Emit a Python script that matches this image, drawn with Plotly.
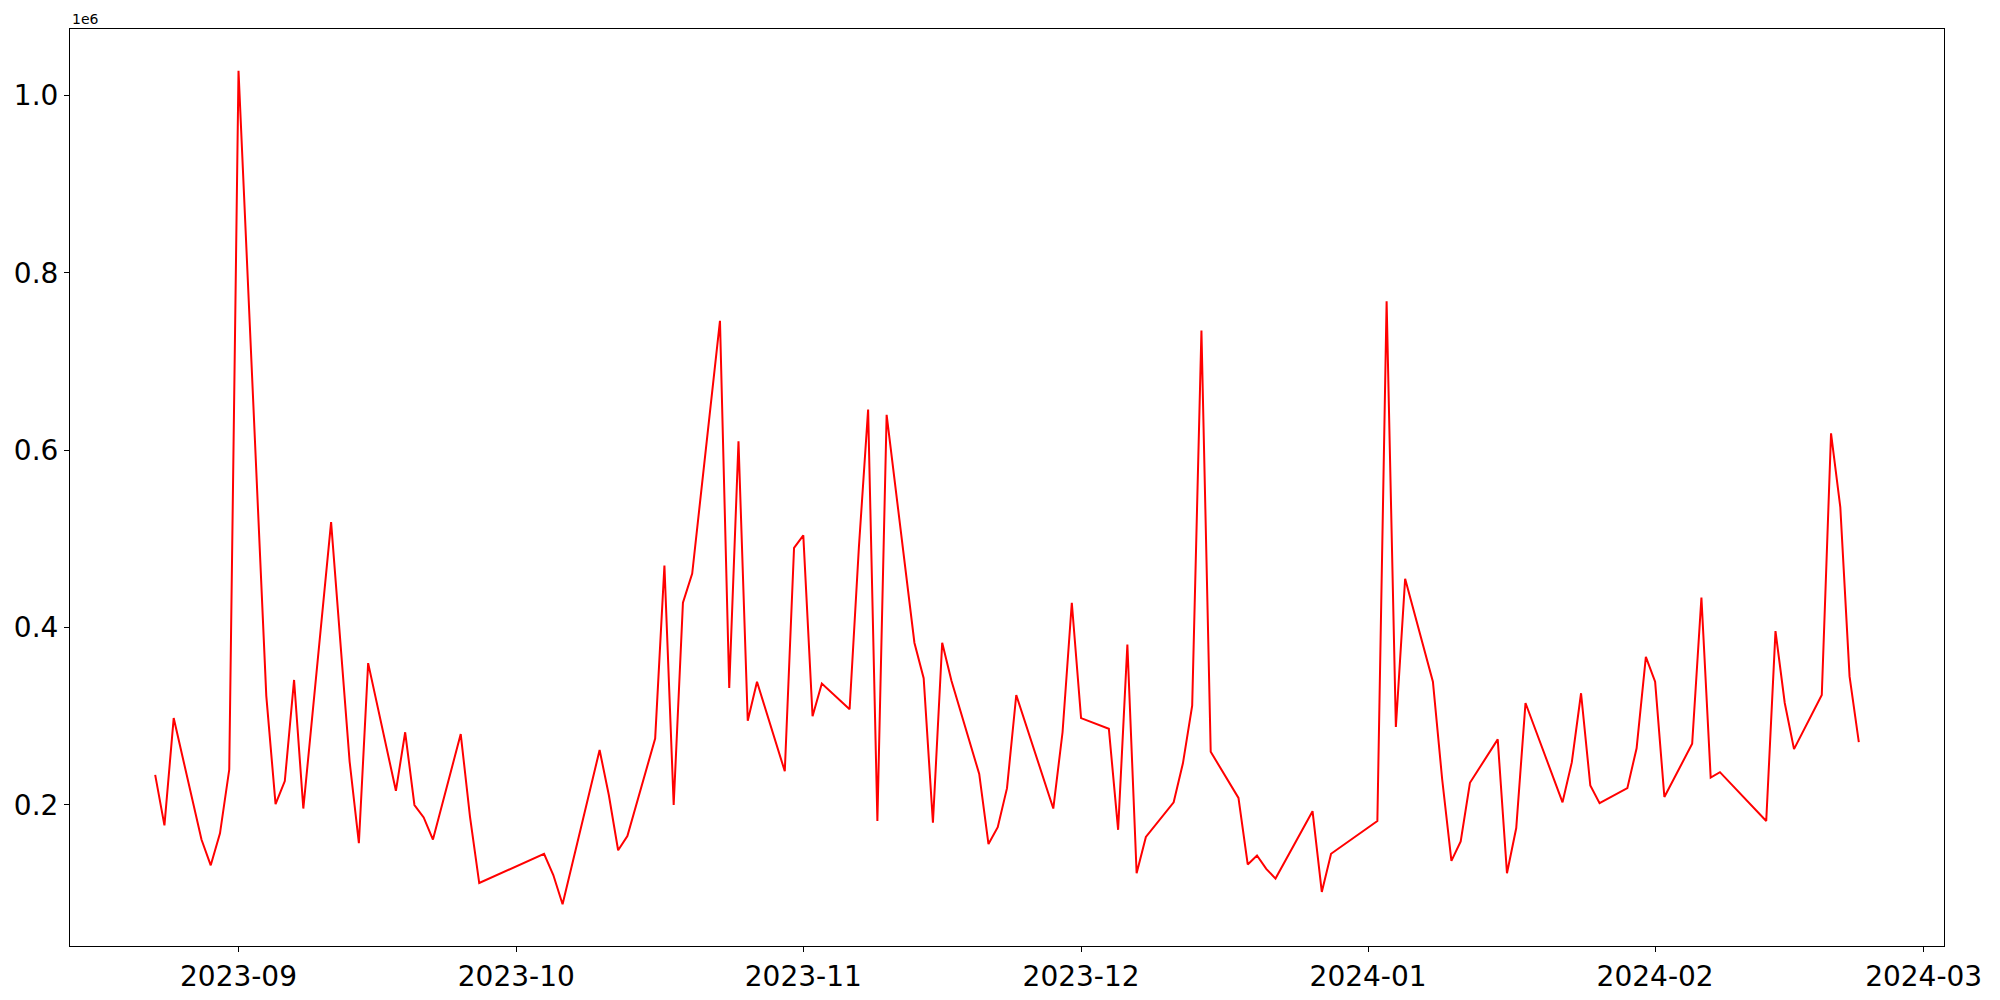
import pandas as pd
import plotly.graph_objects as go

# daily series, values in raw units (axis shows them scaled by 1e6)
dates = [
    "2023-08-23", "2023-08-24", "2023-08-25", "2023-08-28", "2023-08-29", "2023-08-30", "2023-08-31",
    "2023-09-01", "2023-09-04", "2023-09-05", "2023-09-06", "2023-09-07", "2023-09-08", "2023-09-11",
    "2023-09-13", "2023-09-14", "2023-09-15", "2023-09-18", "2023-09-19", "2023-09-20", "2023-09-21",
    "2023-09-22", "2023-09-25", "2023-09-26", "2023-09-27", "2023-10-04", "2023-10-05", "2023-10-06",
    "2023-10-10", "2023-10-11", "2023-10-12", "2023-10-13", "2023-10-16", "2023-10-17", "2023-10-18",
    "2023-10-19", "2023-10-20", "2023-10-23", "2023-10-24", "2023-10-25", "2023-10-26", "2023-10-27",
    "2023-10-30", "2023-10-31", "2023-11-01", "2023-11-02", "2023-11-03", "2023-11-06", "2023-11-07",
    "2023-11-08", "2023-11-09", "2023-11-10", "2023-11-13", "2023-11-14", "2023-11-15", "2023-11-16",
    "2023-11-17", "2023-11-20", "2023-11-21", "2023-11-22", "2023-11-23", "2023-11-24", "2023-11-28",
    "2023-11-29", "2023-11-30", "2023-12-01", "2023-12-04", "2023-12-05", "2023-12-06", "2023-12-07",
    "2023-12-08", "2023-12-11", "2023-12-12", "2023-12-13", "2023-12-14", "2023-12-15", "2023-12-18",
    "2023-12-19", "2023-12-20", "2023-12-21", "2023-12-22", "2023-12-26", "2023-12-27", "2023-12-28",
    "2024-01-02", "2024-01-03", "2024-01-04", "2024-01-05", "2024-01-08", "2024-01-09", "2024-01-10",
    "2024-01-11", "2024-01-12", "2024-01-15", "2024-01-16", "2024-01-17", "2024-01-18", "2024-01-22",
    "2024-01-23", "2024-01-24", "2024-01-25", "2024-01-26", "2024-01-29", "2024-01-30", "2024-01-31",
    "2024-02-01", "2024-02-02", "2024-02-05", "2024-02-06", "2024-02-07", "2024-02-08", "2024-02-13",
    "2024-02-14", "2024-02-15", "2024-02-16", "2024-02-19", "2024-02-20", "2024-02-21", "2024-02-22",
    "2024-02-23",
]
values = [
    234000, 177000, 298000, 161000, 132000, 168000, 240000,
    1028000, 323000, 201000, 227000, 341000, 196000, 519000,
    249000, 157000, 360000, 216000, 282000, 200000, 186000,
    161000, 280000, 187000, 112000, 145000, 121000, 88000,
    262000, 211000, 149000, 165000, 275000, 470000, 200000,
    428000, 461000, 746000, 332000, 610000, 295000, 339000,
    238000, 490000, 504000, 300000, 337000, 308000, 490000,
    646000, 182000, 640000, 383000, 343000, 180000, 383000,
    340000, 235000, 156000, 175000, 219000, 324000, 196000,
    282000, 428000, 298000, 286000, 172000, 381000, 123000,
    164000, 203000, 247000, 312000, 735000, 260000, 208000,
    133000, 143000, 128000, 117000, 193000, 102000, 145000,
    182000, 768000, 288000, 455000, 339000, 229000, 137000,
    159000, 225000, 274000, 123000, 174000, 315000, 203000,
    248000, 326000, 222000, 202000, 219000, 264000, 367000,
    339000, 209000, 269000, 434000, 231000, 237000, 182000,
    396000, 315000, 263000, 324000, 619000, 536000, 345000,
    271000,
]
ytick_vals = [200000, 400000, 600000, 800000, 1000000]
ytick_text = ["0.2", "0.4", "0.6", "0.8", "1.0"]

x = pd.to_datetime(dates)

# matplotlib-like 5% autoscale margins
ypad = 0.05 * (max(values) - min(values))
xpad = 0.05 * (x.max() - x.min())

fig = go.Figure()
fig.add_trace(go.Scatter(
    x=x,
    y=values,
    mode="lines",
    line=dict(color="#ff0000", width=2),
    showlegend=False,
))

axis_style = dict(
    showline=True,
    linecolor="black",
    linewidth=1,
    mirror=True,
    showgrid=False,
    zeroline=False,
    automargin=False,
    ticks="outside",
    ticklen=5,
    tickwidth=1,
    tickcolor="black",
    tickfont=dict(family="DejaVu Sans", size=28, color="black"),
)

fig.update_xaxes(
    range=[x.min() - xpad, x.max() + xpad],
    tick0="2023-09-01",
    dtick="M1",
    tickformat="%Y-%m",
    **axis_style,
)
fig.update_yaxes(
    range=[min(values) - ypad, max(values) + ypad],
    tickvals=ytick_vals,
    ticktext=ytick_text,
    **axis_style,
)

fig.add_annotation(
    text="1e6", xref="paper", yref="paper", x=0, y=1,
    xanchor="left", yanchor="bottom", showarrow=False,
    font=dict(family="DejaVu Sans", size=14, color="black"),
)

# the page body adds an 8px offset, so margins are shifted to compensate
fig.update_layout(
    width=2000,
    height=1000,
    margin=dict(l=62, r=64, t=21, b=62),
    plot_bgcolor="white",
    paper_bgcolor="white",
)

fig.write_html("out.html")
